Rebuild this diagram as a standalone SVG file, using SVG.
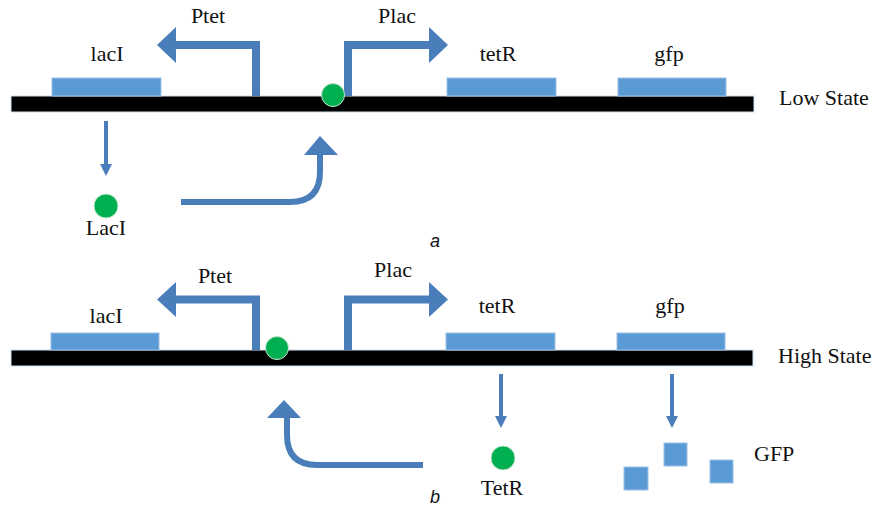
<svg xmlns="http://www.w3.org/2000/svg" width="872" height="508" viewBox="0 0 872 508">
<defs>
<style>
.t{font-family:"Liberation Serif","Times New Roman",serif;font-size:22px;fill:#111}
.lab{font-family:"Liberation Sans",Arial,sans-serif;font-size:18px;font-style:italic;fill:#111}
.dna{fill:#000;stroke:#cfdff0;stroke-width:1}
.gene{fill:#5B9BD5;stroke:#9dc0e6;stroke-width:1}
.prom{fill:none;stroke:#4A7EBB;stroke-width:8;stroke-linejoin:miter}
.head{fill:#4A7EBB}
.thin{fill:none;stroke:#4A7EBB;stroke-width:4}
.curve{fill:none;stroke:#4A7EBB;stroke-width:6}
.prot{fill:#00B050;stroke:#c7e3cf;stroke-width:1}
.gfp{fill:#5B9BD5;stroke:#9dc0e6;stroke-width:1}
</style>
</defs>
<rect width="872" height="508" fill="#fff"/>

<!-- ===== Panel a (Low State) ===== -->
<g id="dna-a"><rect class="dna" x="11" y="96" width="743" height="16"/></g>
<g id="lacI-a"><rect class="gene" x="52" y="78" width="109" height="18"/><text class="t" x="107" y="61" text-anchor="middle">lacI</text></g>
<g id="tetR-a"><rect class="gene" x="447" y="78" width="109" height="18"/><text class="t" x="498" y="61" text-anchor="middle">tetR</text></g>
<g id="gfp-a"><rect class="gene" x="618" y="78" width="108" height="18"/><text class="t" x="669" y="61" text-anchor="middle">gfp</text></g>
<g id="ptet-a"><path class="prom" d="M256,96 V45 H174"/><polygon class="head" points="176,27 157,45 176,63"/><text class="t" x="208" y="23" text-anchor="middle">Ptet</text></g>
<g id="plac-a"><path class="prom" d="M348,96 V45 H431"/><polygon class="head" points="429,27 448,45 429,63"/><text class="t" x="397" y="23" text-anchor="middle">Plac</text></g>
<g id="bound-a"><circle class="prot" cx="333" cy="95" r="11.5"/></g>
<g id="LacI-a"><circle class="prot" cx="106" cy="206" r="12"/><text class="t" x="106" y="235" text-anchor="middle">LacI</text></g>
<g id="state-a"><text class="t" x="779" y="105">Low State</text></g>
<g id="label-a"><text class="lab" x="430" y="247">a</text></g>

<!-- ===== Panel b (High State) ===== -->
<g id="dna-b"><rect class="dna" x="11" y="350" width="742" height="16"/></g>
<g id="lacI-b"><rect class="gene" x="51" y="333" width="108" height="17"/><text class="t" x="106" y="323" text-anchor="middle">lacI</text></g>
<g id="tetR-b"><rect class="gene" x="446" y="333" width="109" height="17"/><text class="t" x="497" y="313" text-anchor="middle">tetR</text></g>
<g id="gfp-b"><rect class="gene" x="617" y="333" width="108" height="17"/><text class="t" x="670" y="313" text-anchor="middle">gfp</text></g>
<g id="ptet-b"><path class="prom" d="M256,350 V299.5 H174"/><polygon class="head" points="176,282 157,299.5 176,317"/><text class="t" x="215" y="283" text-anchor="middle">Ptet</text></g>
<g id="plac-b"><path class="prom" d="M348,350 V299.5 H431"/><polygon class="head" points="429,282 448,299.5 429,317"/><text class="t" x="393" y="277" text-anchor="middle">Plac</text></g>
<g id="bound-b"><circle class="prot" cx="277" cy="348" r="11.5"/></g>
<g id="TetR-b"><circle class="prot" cx="503" cy="458" r="12"/><text class="t" x="502" y="495" text-anchor="middle">TetR</text></g>
<g id="GFP-b">
<rect class="gfp" x="624" y="467" width="24" height="23"/>
<rect class="gfp" x="664" y="443" width="23" height="23"/>
<rect class="gfp" x="710" y="460" width="23" height="23"/>
<text class="t" x="754" y="461">GFP</text>
</g>
<g id="state-b"><text class="t" x="778" y="363">High State</text></g>
<g id="label-b"><text class="lab" x="430" y="503">b</text></g>

<!-- ===== Connectors ===== -->
<g id="connectors">
<path class="thin" d="M106,121 V165"/><polygon class="head" points="100,164 112,164 106,176"/>
<path class="curve" d="M181,202 H290 Q320,202 320,172 V153"/><polygon class="head" points="304,155 320,136 338,155"/>
<path class="thin" d="M501,374 V417"/><polygon class="head" points="495,416 507,416 501,428"/>
<path class="thin" d="M672,374 V417"/><polygon class="head" points="666,416 678,416 672,428"/>
<path class="curve" d="M423,465 H317 Q287,465 287,435 V416"/><polygon class="head" points="267,418 284,400 301,418"/>
</g>
</svg>
